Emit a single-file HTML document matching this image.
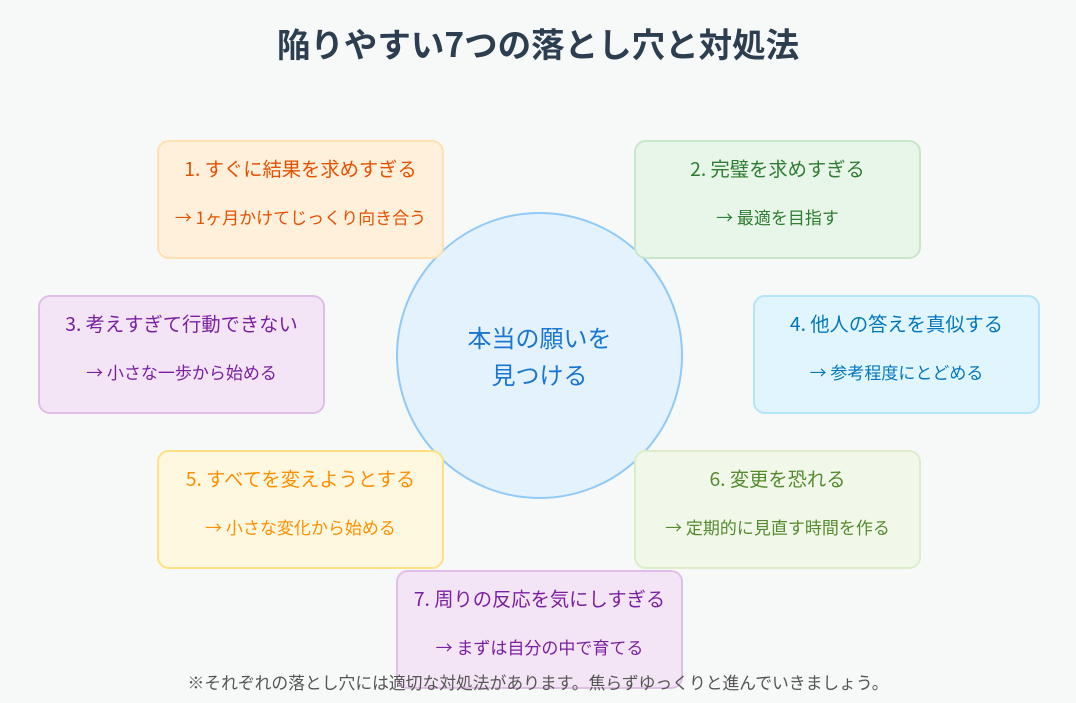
<!DOCTYPE html>
<html><head><meta charset="utf-8"><style>
body{margin:0;width:1076px;height:703px;background:#f7f8f8;font-family:"Noto Sans CJK JP",sans-serif;position:relative;overflow:hidden}
h1{position:absolute;top:17px;left:0;width:1076px;text-align:center;margin:0;font-size:33.5px;font-weight:bold;color:#2c3e50;line-height:52px}
.b{position:absolute;width:283px;height:115px;border:2px solid;border-radius:12px;text-align:center;box-sizing:content-box}
.b .t{position:absolute;top:13px;left:0;width:100%;font-size:19.3px;line-height:26px;white-space:nowrap}
.b .s{position:absolute;top:63px;left:0;width:100%;font-size:17px;line-height:24px;white-space:nowrap}
.c{position:absolute;left:396px;top:212px;width:283px;height:283px;border-radius:50%;background:#e3f2fd;border:2px solid #90caf9;color:#1976d2;font-size:24px;text-align:center;line-height:37px}
.c div{position:absolute;top:104px;left:0;width:100%}
.foot{position:absolute;top:670px;left:0;width:1076px;text-align:center;font-size:16.8px;color:#555;line-height:24px;white-space:nowrap}
</style></head><body>
<h1>陥りやすい7つの落とし穴と対処法</h1>
<div class="c"><div>本当の願いを<br>見つける</div></div>
<div class="b" style="left:157px;top:140px;background:#fff0dc;border-color:#ffe0b2;color:#e65100"><div class="t">1. すぐに結果を求めすぎる</div><div class="s">→ 1ヶ月かけてじっくり向き合う</div></div>
<div class="b" style="left:634px;top:140px;background:#e8f5e9;border-color:#c8e6c9;color:#2e7d32"><div class="t">2. 完璧を求めすぎる</div><div class="s">→ 最適を目指す</div></div>
<div class="b" style="left:38px;top:295px;background:#f3e5f5;border-color:#e1bee7;color:#7b1fa2"><div class="t">3. 考えすぎて行動できない</div><div class="s">→ 小さな一歩から始める</div></div>
<div class="b" style="left:753px;top:295px;background:#e1f5fe;border-color:#b3e5fc;color:#0277bd"><div class="t">4. 他人の答えを真似する</div><div class="s">→ 参考程度にとどめる</div></div>
<div class="b" style="left:157px;top:450px;background:#fff8e1;border-color:#ffe082;color:#ff8f00"><div class="t">5. すべてを変えようとする</div><div class="s">→ 小さな変化から始める</div></div>
<div class="b" style="left:634px;top:450px;background:#f1f8e9;border-color:#dcedc8;color:#558b2f"><div class="t">6. 変更を恐れる</div><div class="s">→ 定期的に見直す時間を作る</div></div>
<div class="b" style="left:396px;top:570px;background:#f3e5f5;border-color:#e1bee7;color:#7b1fa2"><div class="t">7. 周りの反応を気にしすぎる</div><div class="s">→ まずは自分の中で育てる</div></div>
<div class="foot">※それぞれの落とし穴には適切な対処法があります。焦らずゆっくりと進んでいきましょう。</div>
</body></html>
